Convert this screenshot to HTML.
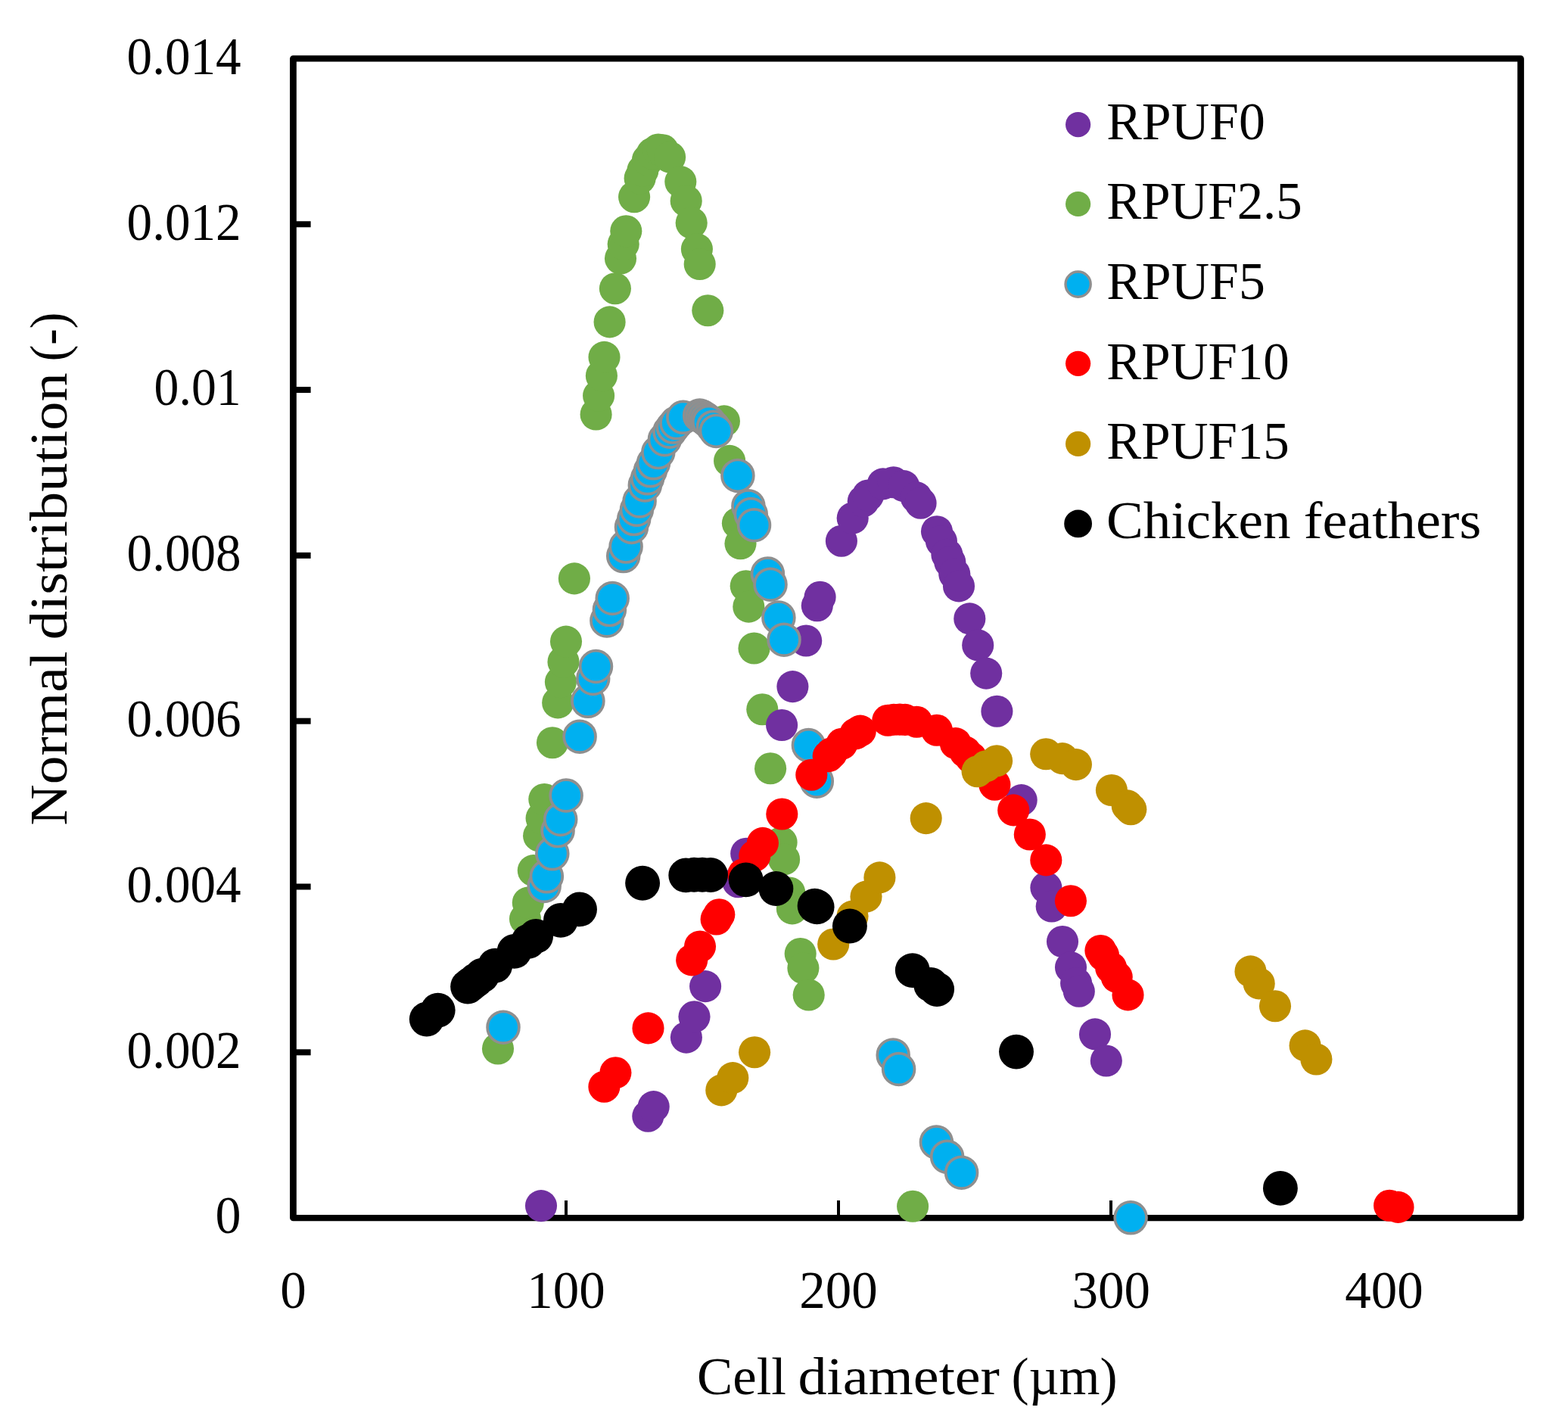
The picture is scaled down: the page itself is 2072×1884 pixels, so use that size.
<!DOCTYPE html>
<html lang="en"><head><meta charset="utf-8"><title>Cell diameter normal distribution</title>
<style>html,body{margin:0;padding:0;background:#fff}body{width:2072px;height:1884px;overflow:hidden}svg{display:block}text{font-family:'Liberation Serif', 'DejaVu Serif', serif;font-size:70px;fill:#000}</style>
</head><body>
<svg width="2072" height="1884" viewBox="0 0 2072 1884">
<rect width="2072" height="1884" fill="#fff"/>
<g fill="#000">
<rect x="390.8" y="1386.29" width="19.8" height="8"/>
<rect x="390.8" y="1167.49" width="19.8" height="8"/>
<rect x="390.8" y="948.68" width="19.8" height="8"/>
<rect x="390.8" y="729.87" width="19.8" height="8"/>
<rect x="390.8" y="511.06" width="19.8" height="8"/>
<rect x="390.8" y="292.26" width="19.8" height="8"/>
<rect x="746.0" y="1586" width="4" height="20"/>
<rect x="1106.0" y="1586" width="4" height="20"/>
<rect x="1466.0" y="1586" width="4" height="20"/>
<rect x="1826.0" y="1586" width="4" height="20"/>
<path fill-rule="evenodd" d="M387.4 73.3 H2009.5 A4.4 4.4 0 0 1 2013.9 77.7 V1608.8 A4.4 4.4 0 0 1 2009.5 1613.2 H387.4 A4.4 4.4 0 0 1 383.0 1608.8 V77.7 A4.4 4.4 0 0 1 387.4 73.3 Z M391.8 81.6 H2005.2 V1605.0 H391.8 Z"/>
</g>
<text x="318.6" y="1629.4" text-anchor="end" textLength="34.0" lengthAdjust="spacingAndGlyphs">0</text>
<text x="318.6" y="1410.6" text-anchor="end" textLength="151.0" lengthAdjust="spacingAndGlyphs">0.002</text>
<text x="318.6" y="1191.8" text-anchor="end" textLength="151.0" lengthAdjust="spacingAndGlyphs">0.004</text>
<text x="318.6" y="973.0" text-anchor="end" textLength="151.0" lengthAdjust="spacingAndGlyphs">0.006</text>
<text x="318.6" y="754.2" text-anchor="end" textLength="151.0" lengthAdjust="spacingAndGlyphs">0.008</text>
<text x="318.6" y="535.4" text-anchor="end" textLength="115.0" lengthAdjust="spacingAndGlyphs">0.01</text>
<text x="318.6" y="316.6" text-anchor="end" textLength="151.0" lengthAdjust="spacingAndGlyphs">0.012</text>
<text x="318.6" y="97.8" text-anchor="end" textLength="151.0" lengthAdjust="spacingAndGlyphs">0.014</text>
<text x="387.4" y="1727.8" text-anchor="middle" textLength="34.5" lengthAdjust="spacingAndGlyphs">0</text>
<text x="748.0" y="1727.8" text-anchor="middle" textLength="103.5" lengthAdjust="spacingAndGlyphs">100</text>
<text x="1108.0" y="1727.8" text-anchor="middle" textLength="103.5" lengthAdjust="spacingAndGlyphs">200</text>
<text x="1468.3" y="1727.8" text-anchor="middle" textLength="103.5" lengthAdjust="spacingAndGlyphs">300</text>
<text x="1829.0" y="1727.8" text-anchor="middle" textLength="103.5" lengthAdjust="spacingAndGlyphs">400</text>
<text><tspan x="921.0" y="1842.0" textLength="118.0" lengthAdjust="spacingAndGlyphs">Cell</tspan> <tspan x="1054.5" y="1842.0" textLength="266.5" lengthAdjust="spacingAndGlyphs">diameter</tspan> <tspan x="1336.5" y="1842.0" textLength="140.0" lengthAdjust="spacingAndGlyphs">(µm)</tspan></text>
<text transform="translate(88.4,1089.3) rotate(-90)"><tspan x="-1.5" y="0.0" textLength="230.5" lengthAdjust="spacingAndGlyphs">Normal</tspan> <tspan x="244.0" y="0.0" textLength="353.0" lengthAdjust="spacingAndGlyphs">distribution</tspan> <tspan x="612.0" y="0.0" textLength="64.5" lengthAdjust="spacingAndGlyphs">(-)</tspan></text>
<g fill="#70AD47">
<circle cx="658.0" cy="1385.5" r="21.05"/>
<circle cx="694.0" cy="1214.1" r="21.05"/>
<circle cx="697.8" cy="1192.6" r="21.05"/>
<circle cx="704.8" cy="1150.1" r="21.05"/>
<circle cx="712.1" cy="1104.2" r="21.05"/>
<circle cx="715.6" cy="1081.0" r="21.05"/>
<circle cx="719.3" cy="1056.0" r="21.05"/>
<circle cx="730.0" cy="981.2" r="21.05"/>
<circle cx="737.2" cy="928.4" r="21.05"/>
<circle cx="740.9" cy="901.1" r="21.05"/>
<circle cx="744.5" cy="874.4" r="21.05"/>
<circle cx="748.0" cy="847.6" r="21.05"/>
<circle cx="758.9" cy="764.4" r="21.05"/>
<circle cx="787.6" cy="547.5" r="21.05"/>
<circle cx="791.1" cy="522.8" r="21.05"/>
<circle cx="794.9" cy="496.4" r="21.05"/>
<circle cx="798.5" cy="471.9" r="21.05"/>
<circle cx="805.6" cy="425.4" r="21.05"/>
<circle cx="812.9" cy="381.2" r="21.05"/>
<circle cx="820.0" cy="341.5" r="21.05"/>
<circle cx="823.7" cy="322.5" r="21.05"/>
<circle cx="827.3" cy="305.3" r="21.05"/>
<circle cx="838.1" cy="260.2" r="21.05"/>
<circle cx="845.6" cy="235.5" r="21.05"/>
<circle cx="849.3" cy="225.5" r="21.05"/>
<circle cx="855.9" cy="211.4" r="21.05"/>
<circle cx="861.8" cy="202.8" r="21.05"/>
<circle cx="869.9" cy="197.5" r="21.05"/>
<circle cx="875.8" cy="198.3" r="21.05"/>
<circle cx="885.1" cy="207.6" r="21.05"/>
<circle cx="899.3" cy="240.1" r="21.05"/>
<circle cx="906.7" cy="265.4" r="21.05"/>
<circle cx="913.7" cy="294.5" r="21.05"/>
<circle cx="920.9" cy="329.1" r="21.05"/>
<circle cx="924.7" cy="349.0" r="21.05"/>
<circle cx="935.3" cy="410.2" r="21.05"/>
<circle cx="956.9" cy="556.4" r="21.05"/>
<circle cx="964.1" cy="608.9" r="21.05"/>
<circle cx="974.9" cy="691.2" r="21.05"/>
<circle cx="978.5" cy="718.3" r="21.05"/>
<circle cx="985.7" cy="774.2" r="21.05"/>
<circle cx="989.3" cy="801.6" r="21.05"/>
<circle cx="996.5" cy="856.5" r="21.05"/>
<circle cx="1007.3" cy="937.3" r="21.05"/>
<circle cx="1018.1" cy="1015.3" r="21.05"/>
<circle cx="1032.6" cy="1112.9" r="21.05"/>
<circle cx="1036.1" cy="1135.4" r="21.05"/>
<circle cx="1043.3" cy="1179.5" r="21.05"/>
<circle cx="1046.9" cy="1200.4" r="21.05"/>
<circle cx="1057.7" cy="1260.0" r="21.05"/>
<circle cx="1061.4" cy="1279.1" r="21.05"/>
<circle cx="1068.7" cy="1314.5" r="21.05"/>
<circle cx="1206.1" cy="1593.8" r="21.05"/>
</g>
<g fill="#7030A0">
<circle cx="715.0" cy="1593.1" r="21.05"/>
<circle cx="856.3" cy="1474.7" r="21.05"/>
<circle cx="863.7" cy="1462.1" r="21.05"/>
<circle cx="906.9" cy="1370.6" r="21.05"/>
<circle cx="917.5" cy="1343.3" r="21.05"/>
<circle cx="932.1" cy="1303.1" r="21.05"/>
<circle cx="975.4" cy="1165.2" r="21.05"/>
<circle cx="986.2" cy="1127.7" r="21.05"/>
<circle cx="1033.1" cy="958.0" r="21.05"/>
<circle cx="1047.4" cy="907.1" r="21.05"/>
<circle cx="1065.2" cy="846.5" r="21.05"/>
<circle cx="1079.8" cy="800.2" r="21.05"/>
<circle cx="1083.6" cy="788.8" r="21.05"/>
<circle cx="1111.9" cy="714.7" r="21.05"/>
<circle cx="1126.7" cy="684.5" r="21.05"/>
<circle cx="1140.8" cy="662.2" r="21.05"/>
<circle cx="1147.1" cy="654.5" r="21.05"/>
<circle cx="1166.8" cy="639.4" r="21.05"/>
<circle cx="1180.7" cy="637.3" r="21.05"/>
<circle cx="1194.2" cy="642.1" r="21.05"/>
<circle cx="1210.8" cy="657.1" r="21.05"/>
<circle cx="1216.6" cy="664.7" r="21.05"/>
<circle cx="1238.0" cy="702.2" r="21.05"/>
<circle cx="1243.9" cy="715.0" r="21.05"/>
<circle cx="1251.4" cy="732.7" r="21.05"/>
<circle cx="1255.3" cy="742.6" r="21.05"/>
<circle cx="1261.3" cy="758.5" r="21.05"/>
<circle cx="1267.0" cy="774.4" r="21.05"/>
<circle cx="1281.3" cy="817.4" r="21.05"/>
<circle cx="1292.2" cy="852.4" r="21.05"/>
<circle cx="1303.2" cy="889.6" r="21.05"/>
<circle cx="1317.4" cy="939.7" r="21.05"/>
<circle cx="1349.7" cy="1057.1" r="21.05"/>
<circle cx="1382.4" cy="1172.8" r="21.05"/>
<circle cx="1389.7" cy="1197.5" r="21.05"/>
<circle cx="1404.0" cy="1244.0" r="21.05"/>
<circle cx="1415.0" cy="1278.1" r="21.05"/>
<circle cx="1422.1" cy="1299.1" r="21.05"/>
<circle cx="1425.8" cy="1309.7" r="21.05"/>
<circle cx="1447.0" cy="1366.4" r="21.05"/>
<circle cx="1461.8" cy="1401.5" r="21.05"/>
</g>
<g fill="#00B0F0" stroke="#8F8F8F" stroke-width="3.7">
<circle cx="665.0" cy="1357.2" r="20.90"/>
<circle cx="719.2" cy="1170.5" r="20.90"/>
<circle cx="722.4" cy="1157.8" r="20.90"/>
<circle cx="729.8" cy="1127.8" r="20.90"/>
<circle cx="737.1" cy="1097.6" r="20.90"/>
<circle cx="740.7" cy="1082.5" r="20.90"/>
<circle cx="748.1" cy="1051.0" r="20.90"/>
<circle cx="766.1" cy="973.2" r="20.90"/>
<circle cx="776.9" cy="926.3" r="20.90"/>
<circle cx="783.7" cy="896.5" r="20.90"/>
<circle cx="787.5" cy="880.5" r="20.90"/>
<circle cx="801.9" cy="820.0" r="20.90"/>
<circle cx="805.4" cy="805.6" r="20.90"/>
<circle cx="809.2" cy="790.5" r="20.90"/>
<circle cx="823.7" cy="734.6" r="20.90"/>
<circle cx="827.1" cy="722.1" r="20.90"/>
<circle cx="834.5" cy="696.4" r="20.90"/>
<circle cx="837.7" cy="685.6" r="20.90"/>
<circle cx="841.4" cy="673.5" r="20.90"/>
<circle cx="845.1" cy="662.0" r="20.90"/>
<circle cx="852.3" cy="640.9" r="20.90"/>
<circle cx="855.6" cy="631.8" r="20.90"/>
<circle cx="859.4" cy="621.8" r="20.90"/>
<circle cx="863.5" cy="611.8" r="20.90"/>
<circle cx="869.8" cy="597.6" r="20.90"/>
<circle cx="878.4" cy="580.7" r="20.90"/>
<circle cx="884.9" cy="570.2" r="20.90"/>
<circle cx="889.3" cy="564.1" r="20.90"/>
<circle cx="893.9" cy="558.7" r="20.90"/>
<circle cx="902.8" cy="551.3" r="20.90"/>
<circle cx="924.6" cy="548.9" r="20.90"/>
<circle cx="927.9" cy="550.6" r="20.90"/>
<circle cx="931.1" cy="552.7" r="20.90"/>
<circle cx="934.0" cy="555.0" r="20.90"/>
<circle cx="936.7" cy="557.5" r="20.90"/>
<circle cx="942.5" cy="564.2" r="20.90"/>
<circle cx="946.4" cy="569.4" r="20.90"/>
<circle cx="974.9" cy="628.4" r="20.90"/>
<circle cx="988.9" cy="668.7" r="20.90"/>
<circle cx="992.3" cy="679.5" r="20.90"/>
<circle cx="996.5" cy="693.7" r="20.90"/>
<circle cx="1014.4" cy="758.0" r="20.90"/>
<circle cx="1018.0" cy="772.2" r="20.90"/>
<circle cx="1028.9" cy="815.9" r="20.90"/>
<circle cx="1036.0" cy="845.2" r="20.90"/>
<circle cx="1068.4" cy="984.6" r="20.90"/>
<circle cx="1079.3" cy="1032.2" r="20.90"/>
<circle cx="1180.2" cy="1393.9" r="20.90"/>
<circle cx="1187.6" cy="1412.5" r="20.90"/>
<circle cx="1237.4" cy="1509.1" r="20.90"/>
<circle cx="1251.6" cy="1528.3" r="20.90"/>
<circle cx="1270.6" cy="1549.2" r="20.90"/>
<circle cx="1494.1" cy="1608.8" r="20.90"/>
</g>
<g fill="#FF0000">
<circle cx="798.4" cy="1435.7" r="21.05"/>
<circle cx="813.4" cy="1417.3" r="21.05"/>
<circle cx="856.5" cy="1358.4" r="21.05"/>
<circle cx="914.2" cy="1268.4" r="21.05"/>
<circle cx="925.0" cy="1250.5" r="21.05"/>
<circle cx="946.6" cy="1214.5" r="21.05"/>
<circle cx="950.3" cy="1208.3" r="21.05"/>
<circle cx="982.2" cy="1155.2" r="21.05"/>
<circle cx="997.3" cy="1130.7" r="21.05"/>
<circle cx="1007.9" cy="1113.9" r="21.05"/>
<circle cx="1033.3" cy="1075.5" r="21.05"/>
<circle cx="1072.3" cy="1023.7" r="21.05"/>
<circle cx="1094.7" cy="999.1" r="21.05"/>
<circle cx="1098.7" cy="995.2" r="21.05"/>
<circle cx="1112.4" cy="982.8" r="21.05"/>
<circle cx="1130.5" cy="969.4" r="21.05"/>
<circle cx="1136.8" cy="965.6" r="21.05"/>
<circle cx="1173.3" cy="951.8" r="21.05"/>
<circle cx="1181.0" cy="950.8" r="21.05"/>
<circle cx="1189.0" cy="950.6" r="21.05"/>
<circle cx="1196.0" cy="950.9" r="21.05"/>
<circle cx="1211.3" cy="953.7" r="21.05"/>
<circle cx="1237.9" cy="964.8" r="21.05"/>
<circle cx="1262.8" cy="982.1" r="21.05"/>
<circle cx="1275.5" cy="993.4" r="21.05"/>
<circle cx="1283.1" cy="1000.9" r="21.05"/>
<circle cx="1314.4" cy="1036.7" r="21.05"/>
<circle cx="1339.2" cy="1070.4" r="21.05"/>
<circle cx="1360.8" cy="1102.5" r="21.05"/>
<circle cx="1382.3" cy="1136.4" r="21.05"/>
<circle cx="1414.9" cy="1190.2" r="21.05"/>
<circle cx="1454.4" cy="1256.0" r="21.05"/>
<circle cx="1458.0" cy="1262.0" r="21.05"/>
<circle cx="1468.2" cy="1278.7" r="21.05"/>
<circle cx="1475.7" cy="1290.8" r="21.05"/>
<circle cx="1490.5" cy="1314.4" r="21.05"/>
<circle cx="1836.1" cy="1592.8" r="21.05"/>
<circle cx="1847.5" cy="1594.9" r="21.05"/>
</g>
<g fill="#BF9000">
<circle cx="953.3" cy="1440.4" r="21.05"/>
<circle cx="968.3" cy="1424.1" r="21.05"/>
<circle cx="997.1" cy="1390.2" r="21.05"/>
<circle cx="1101.2" cy="1247.5" r="21.05"/>
<circle cx="1126.5" cy="1210.6" r="21.05"/>
<circle cx="1144.5" cy="1184.6" r="21.05"/>
<circle cx="1162.4" cy="1159.4" r="21.05"/>
<circle cx="1223.7" cy="1081.1" r="21.05"/>
<circle cx="1291.6" cy="1019.2" r="21.05"/>
<circle cx="1303.0" cy="1012.3" r="21.05"/>
<circle cx="1317.1" cy="1005.2" r="21.05"/>
<circle cx="1382.2" cy="996.3" r="21.05"/>
<circle cx="1403.9" cy="1002.1" r="21.05"/>
<circle cx="1421.9" cy="1010.1" r="21.05"/>
<circle cx="1468.9" cy="1044.0" r="21.05"/>
<circle cx="1489.7" cy="1064.4" r="21.05"/>
<circle cx="1494.3" cy="1069.2" r="21.05"/>
<circle cx="1652.5" cy="1283.4" r="21.05"/>
<circle cx="1663.7" cy="1299.4" r="21.05"/>
<circle cx="1685.0" cy="1329.2" r="21.05"/>
<circle cx="1724.6" cy="1381.4" r="21.05"/>
<circle cx="1739.4" cy="1399.5" r="21.05"/>
</g>
<g fill="#000">
<circle cx="563.8" cy="1346.5" r="22.95"/>
<circle cx="578.7" cy="1334.7" r="22.95"/>
<circle cx="618.1" cy="1303.5" r="22.95"/>
<circle cx="623.1" cy="1299.6" r="22.95"/>
<circle cx="629.0" cy="1295.0" r="22.95"/>
<circle cx="637.0" cy="1288.8" r="22.95"/>
<circle cx="654.2" cy="1275.7" r="22.95"/>
<circle cx="679.6" cy="1256.9" r="22.95"/>
<circle cx="698.2" cy="1243.7" r="22.95"/>
<circle cx="708.1" cy="1236.9" r="22.95"/>
<circle cx="740.9" cy="1215.9" r="22.95"/>
<circle cx="766.0" cy="1201.4" r="22.95"/>
<circle cx="849.1" cy="1166.7" r="22.95"/>
<circle cx="906.3" cy="1156.4" r="22.95"/>
<circle cx="917.2" cy="1155.8" r="22.95"/>
<circle cx="928.1" cy="1155.7" r="22.95"/>
<circle cx="939.0" cy="1156.0" r="22.95"/>
<circle cx="985.7" cy="1162.4" r="22.95"/>
<circle cx="1025.4" cy="1174.0" r="22.95"/>
<circle cx="1076.6" cy="1196.7" r="22.95"/>
<circle cx="1079.6" cy="1198.3" r="22.95"/>
<circle cx="1122.9" cy="1223.5" r="22.95"/>
<circle cx="1205.8" cy="1282.1" r="22.95"/>
<circle cx="1230.1" cy="1300.9" r="22.95"/>
<circle cx="1238.1" cy="1307.1" r="22.95"/>
<circle cx="1343.0" cy="1389.6" r="22.95"/>
<circle cx="1691.9" cy="1569.9" r="22.95"/>
</g>
<circle cx="1424.6" cy="164.6" r="16.6" fill="#7030A0"/>
<text x="1462.3" y="184.2" textLength="209.5" lengthAdjust="spacingAndGlyphs">RPUF0</text>
<circle cx="1424.6" cy="269.5" r="16.6" fill="#70AD47"/>
<text x="1462.3" y="289.4" textLength="258.5" lengthAdjust="spacingAndGlyphs">RPUF2.5</text>
<circle cx="1424.6" cy="375.6" r="16.6" fill="#00B0F0" stroke="#8F8F8F" stroke-width="3.4"/>
<text x="1462.3" y="394.9" textLength="209.5" lengthAdjust="spacingAndGlyphs">RPUF5</text>
<circle cx="1424.6" cy="480.3" r="16.6" fill="#FF0000"/>
<text x="1462.3" y="500.5" textLength="241.5" lengthAdjust="spacingAndGlyphs">RPUF10</text>
<circle cx="1424.6" cy="586.4" r="16.6" fill="#BF9000"/>
<text x="1462.3" y="605.7" textLength="241.5" lengthAdjust="spacingAndGlyphs">RPUF15</text>
<circle cx="1424.6" cy="691.9" r="18.4" fill="#000"/>
<text><tspan x="1462.0" y="710.9" textLength="243.5" lengthAdjust="spacingAndGlyphs">Chicken</tspan> <tspan x="1722.8" y="710.9" textLength="234.5" lengthAdjust="spacingAndGlyphs">feathers</tspan></text>
</svg></body></html>
